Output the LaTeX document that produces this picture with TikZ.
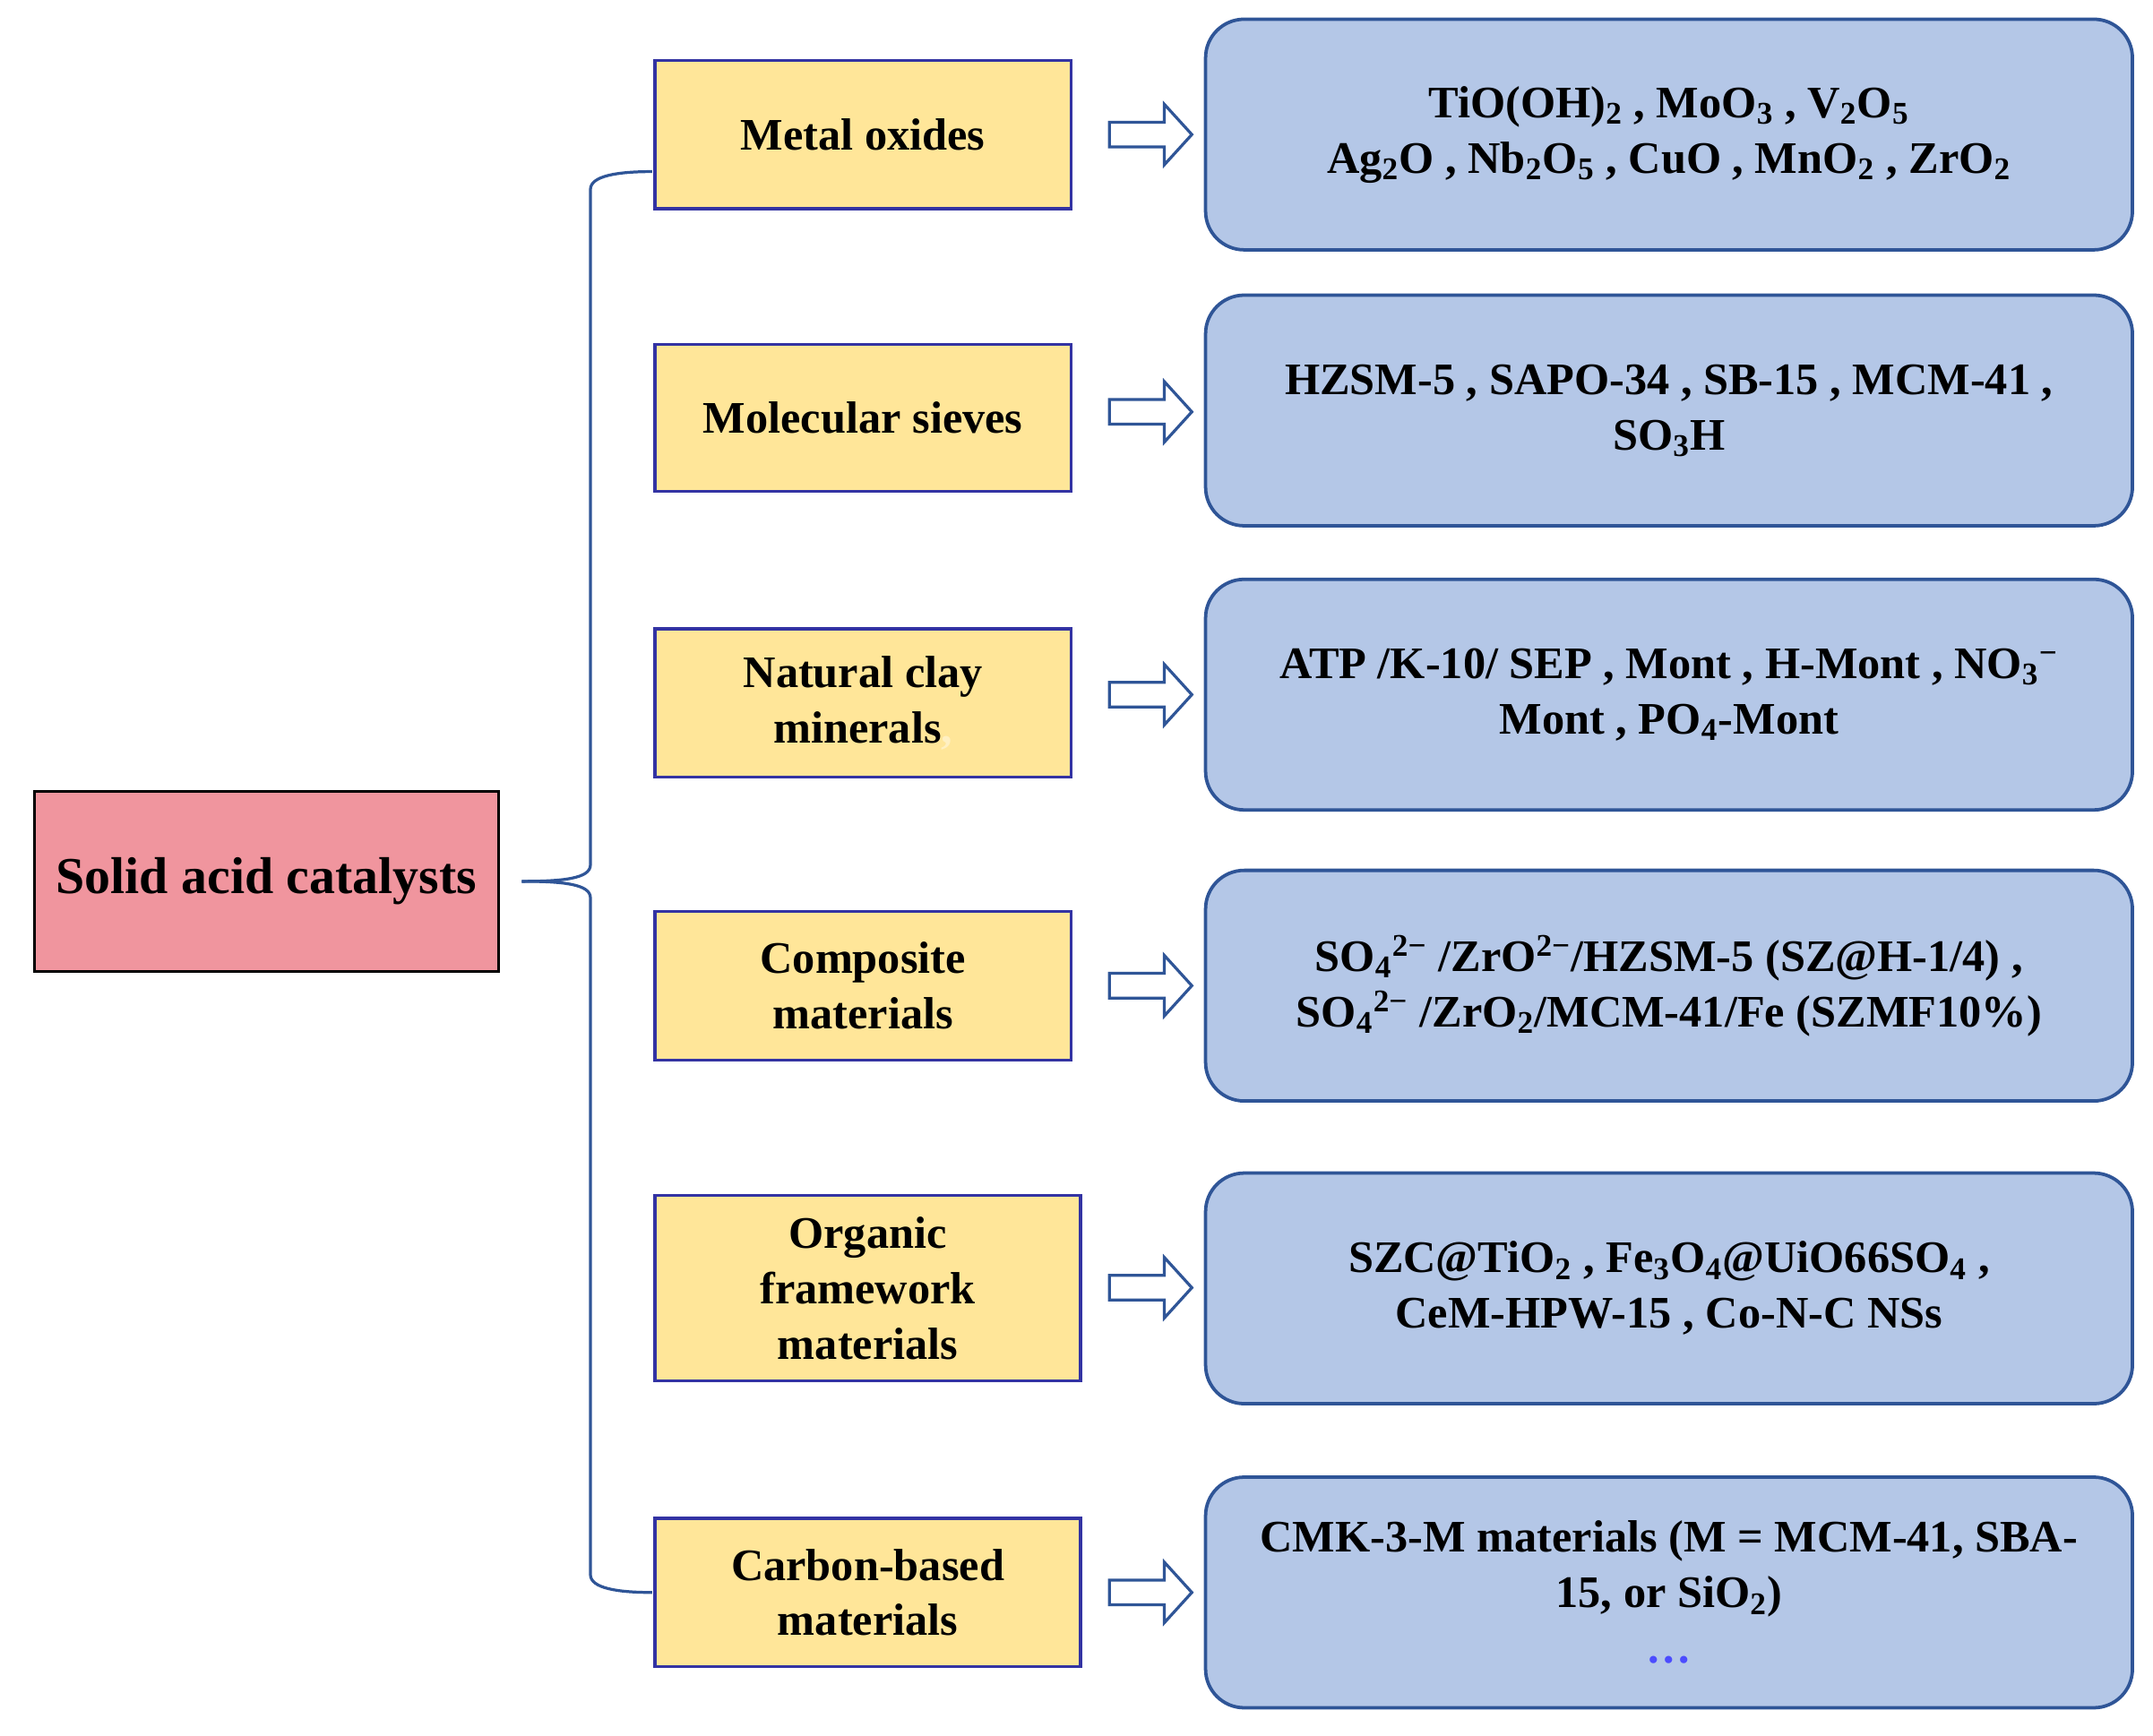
\documentclass[tikz,border=0pt]{standalone}
\usepackage{fontspec}
\setmainfont{Liberation Serif}
\begin{document}
\begin{tikzpicture}[x=0.02cm,y=-0.02cm,
  cat/.style={draw=blue!55!black!80, line width=1.2pt, fill=yellowbox, inner sep=0pt, align=center, font=\fontsize{18.7}{23}\selectfont\bfseries},
  ex/.style={draw=bluedark, line width=1.4pt, fill=bluebox, rounded corners=16pt, inner sep=0pt, align=center, font=\fontsize{18.7}{23}\selectfont\bfseries},
  arr/.style={draw=bluedark, line width=1.2pt, fill=white},
  br/.style={draw=bluedark, line width=1.2pt}]
\definecolor{yellowbox}{HTML}{FFE699}
\definecolor{bluebox}{HTML}{B4C7E7}
\definecolor{bluedark}{HTML}{2F5597}
\definecolor{pinkbox}{HTML}{F0959E}
\useasboundingbox (0,0) rectangle (1568,1264);
\node[draw=black, line width=1.2pt, fill=pinkbox, minimum width=338*0.02cm, minimum height=131*0.02cm, font=\fontsize{21.5}{24}\selectfont\bfseries] (root) at (194,642) {Solid acid catalysts};
% categories
\newcommand{\cbox}[5]{\node[cat, minimum width=#3*0.02cm, minimum height=#4*0.02cm] (#1) at (#2) {#5};}
\cbox{c1}{628.5,98}{303}{108}{Metal oxides}
\cbox{c2}{628.5,304.5}{303}{107}{Molecular sieves}
\cbox{c3}{628.5,512}{303}{108}{Natural clay\\minerals\textcolor{yellowbox!60!white}{,}}
\cbox{c4}{628.5,718}{303}{108}{Composite\\materials}
\cbox{c5}{632,938.5}{310}{135}{Organic\\framework\\materials}
\cbox{c6}{632,1160}{310}{108}{Carbon-based\\materials}
% examples
\newcommand{\ebox}[3]{\node[ex, minimum width=675*0.02cm, minimum height=168*0.02cm] (#1) at (1215.5,#2) {#3};}
\ebox{e1}{98}{TiO(OH)\textsubscript{2} , MoO\textsubscript{3} , V\textsubscript{2}O\textsubscript{5}\\Ag\textsubscript{2}O , Nb\textsubscript{2}O\textsubscript{5} , CuO , MnO\textsubscript{2} , ZrO\textsubscript{2}}
\ebox{e2}{299}{HZSM-5 , SAPO-34 , SB-15 , MCM-41 ,\\SO\textsubscript{3}H}
\ebox{e3}{506}{ATP /K-10/ SEP , Mont , H-Mont , NO\textsubscript{3}\textsuperscript{−}\\Mont , PO\textsubscript{4}-Mont}
\ebox{e4}{718}{SO\textsubscript{4}\textsuperscript{2−} /ZrO\textsuperscript{2−}/HZSM-5 (SZ@H-1/4) ,\\SO\textsubscript{4}\textsuperscript{2−} /ZrO\textsubscript{2}/MCM-41/Fe (SZMF10\%)}
\ebox{e5}{938.5}{SZC@TiO\textsubscript{2} , Fe\textsubscript{3}O\textsubscript{4}@UiO66SO\textsubscript{4} ,\\CeM-HPW-15 , Co-N-C NSs}
\ebox{e6}{1160}{CMK-3-M materials (M = MCM-41, SBA-\\15, or SiO\textsubscript{2})\\\textcolor{blue!70!white}{…}}
% arrows
\foreach \i/\y in {1/98,2/300,3/506,4/718,5/938,6/1160}{
  \draw[arr] (808,\y-9) -- (848,\y-9) -- (848,\y-22) -- (868,\y) -- (848,\y+22) -- (848,\y+9) -- (808,\y+9) -- cycle;
}
% brace
\coordinate (bs) at (380,642);
\coordinate (bt) at (475,125);
\coordinate (bb) at (475,1160);
\draw[br] (bs) .. controls (410,642) and (430,640) .. (430,630) -- (430,138) .. controls (430,128) and (450,125) .. (bt);
\draw[br] (bs) .. controls (410,642) and (430,644) .. (430,654) -- (430,1147) .. controls (430,1157) and (450,1160) .. (bb);
\end{tikzpicture}
\end{document}
